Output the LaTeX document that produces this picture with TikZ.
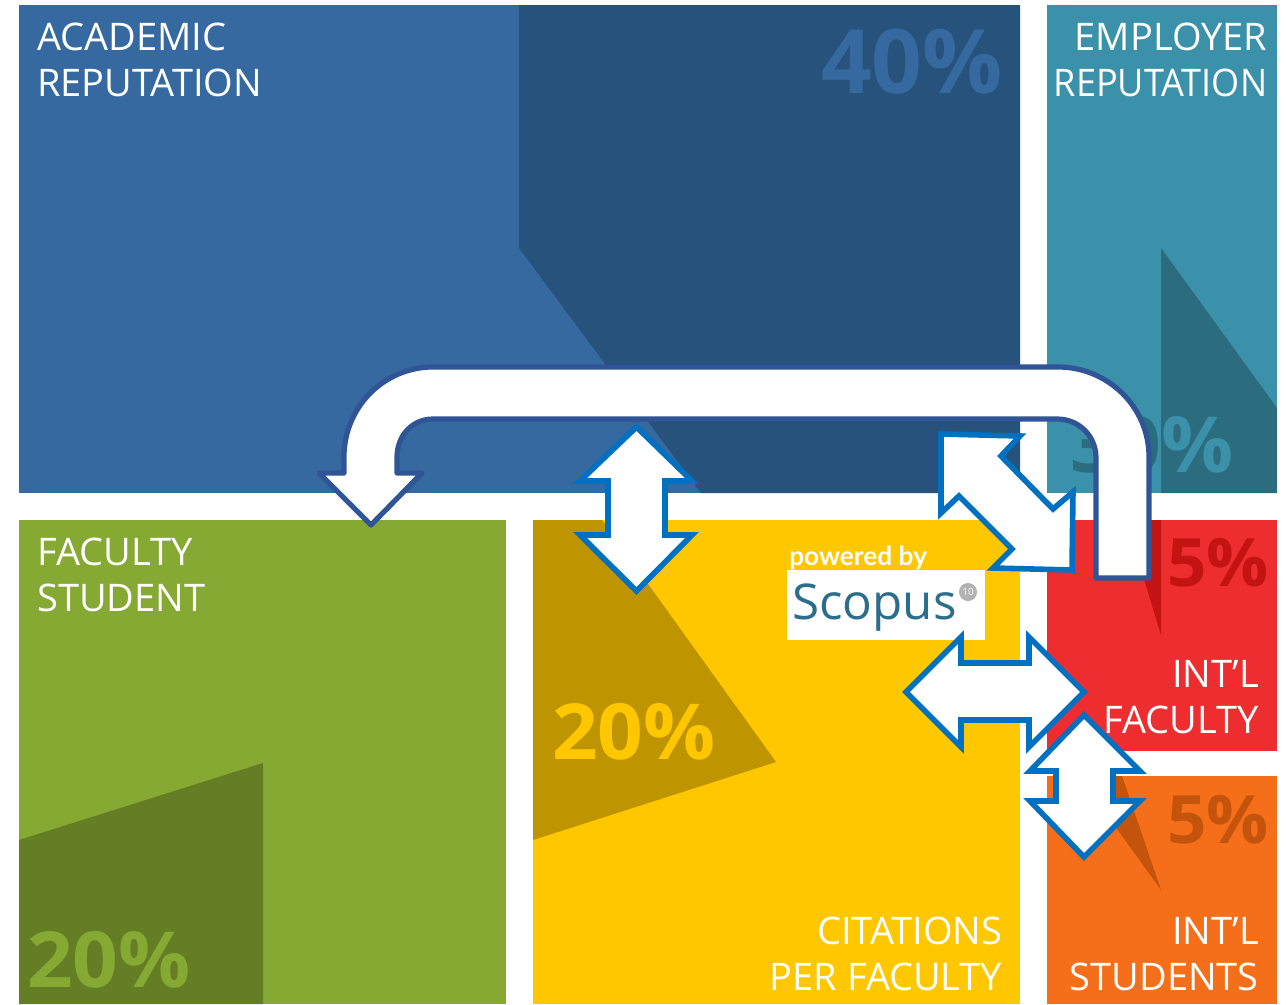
\documentclass[tikz,border=0pt]{standalone}
\usepackage{fontspec}
\setmainfont{Open Sans}
\newfontfamily\latofont{Lato}
\newcommand{\widen}[1]{\scalebox{1.035}[1]{#1}}
\definecolor{acad}{HTML}{35699F}\definecolor{acadd}{HTML}{27527B}
\definecolor{empl}{HTML}{3B91A9}\definecolor{empld}{HTML}{2C6C7F}
\definecolor{facs}{HTML}{85A933}\definecolor{facsd}{HTML}{647E26}
\definecolor{cite}{HTML}{FFC700}\definecolor{cited}{HTML}{BE9400}
\definecolor{intf}{HTML}{ED2D2F}\definecolor{intfd}{HTML}{C41313}
\definecolor{ints}{HTML}{F56E19}\definecolor{intsd}{HTML}{C4530B}
\definecolor{bigline}{HTML}{2F5597}\definecolor{blueline}{HTML}{0070C0}
\definecolor{scop}{HTML}{2A6E8C}
\tikzset{
 lab/.style={text=white,font=\fontsize{28.5pt}{34.5pt}\selectfont,inner sep=0pt,align=left},
 labr/.style={text=white,font=\fontsize{28.5pt}{34.5pt}\selectfont,inner sep=0pt,align=right},
 pctbig/.style={font=\fontsize{66.7pt}{66.7pt}\selectfont\bfseries,inner sep=0pt},
 pctmid/.style={font=\fontsize{58pt}{58pt}\selectfont\bfseries,inner sep=0pt},
 pctsmall/.style={font=\fontsize{50pt}{50pt}\selectfont\bfseries,inner sep=0pt},
 dblarrow/.style={draw=blueline,fill=white,line width=4.2pt,miter limit=10},
 bigarrow/.style={draw=bigline,fill=white,line width=3.9pt,line join=round}
}
\begin{document}
\begin{tikzpicture}[x=.75pt,y=-.75pt]
\useasboundingbox (0,0) rectangle (1286,1004);
\fill[white] (0,0) rectangle (1286,1004);
% panels
\fill[acad] (19,5) rectangle (1020,493);
\fill[acadd] (519,5) -- (1020,5) -- (1020,493) -- (701,493) -- (519,248) -- cycle;
\fill[empl] (1047,5) rectangle (1277,493);
\fill[empld] (1161,248) -- (1277,408) -- (1277,493) -- (1161,493) -- cycle;
\fill[facs] (19,520) rectangle (506,1004);
\fill[facsd] (19,840) -- (263,763) -- (263,1004) -- (19,1004) -- cycle;
\fill[cite] (533,520) rectangle (1020,1004);
\fill[cited] (533,520) -- (602,520) -- (776,762) -- (533,840) -- cycle;
\fill[intf] (1047,520) rectangle (1277,751);
\fill[intfd] (1126,520) -- (1161,520) -- (1161,635) -- cycle;
\fill[ints] (1047,776) rectangle (1277,1004);
\fill[intsd] (1079,776) -- (1122,776) -- (1161,890) -- cycle;
% labels
\node[lab,anchor=base west] (tacad) at (37,96) {ACADEMIC\\REPUTATION};
\node[labr,anchor=base east] (templ) at (1267.5,96) {EMPLOYER\\\scalebox{.95}[1]{REPUTATION}};
\node[lab,anchor=base west] (tfacs) at (37,611) {FACULTY\\STUDENT};
\node[labr,anchor=base east] (tcite) at (1002.5,990) {CITATIONS\\PER FACULTY};
\node[labr,anchor=base east] (tintf) at (1259,733) {INT’L\\FACULTY};
\node[labr,anchor=base east] (tints) at (1259,990) {INT’L\\STUDENTS};
% percents
\node[pctbig,text=acad,anchor=base east] (pacad) at (1003,93) {40\%};
\begin{scope}
\clip (1047,380) rectangle (1161,493);
\node[pctmid,text=empld,anchor=base east] (pempla) at (1234,472) {\widen{30\%}};
\end{scope}
\begin{scope}
\clip (1161,380) rectangle (1277,493);
\node[pctmid,text=empl,anchor=base east] (pemplb) at (1234,472) {\widen{30\%}};
\end{scope}
\node[pctmid,text=facs,anchor=base west] (pfacs) at (27,987) {\widen{20\%}};
\node[pctmid,text=cite,anchor=base west] (pcite) at (552,759) {\widen{20\%}};
\node[pctsmall,text=intfd,anchor=base east] (pintf) at (1269,586) {\widen{5\%}};
\node[pctsmall,text=intsd,anchor=base east] (pints) at (1269,843) {\widen{5\%}};
% scopus
\fill[white] (787,570) rectangle (985,640);
\node[text=white,font=\fontsize{19.7pt}{19.7pt}\latofont\bfseries,inner sep=0pt,anchor=base west] (powered) at (789,565) {powered by};
\node[text=scop,font=\fontsize{37pt}{37pt}\selectfont,inner sep=0pt,anchor=base west] (scopus) at (792,619) {Scopus};
\node[circle,fill=black!30,text=white,inner sep=0pt,minimum size=13.5pt,font=\fontsize{7.5pt}{7.5pt}\selectfont] (ten) at (968,592) {10};
% blue double arrows
\path[dblarrow] (636.5,427) -- (692,481) -- (665,481) -- (665,535) -- (692,535) -- (636.5,591) -- (580,535) -- (608,535) -- (608,481) -- (580,481) -- cycle;
\path[dblarrow] (941,434) -- (1020,436) -- (1001,456) -- (1053,509) -- (1073,492) -- (1072,570) -- (993,568) -- (1012,549) -- (959,496) -- (941,513) -- cycle;
% big bent arrow
\path[bigarrow] (1149,578) -- (1149,457) .. controls (1149,407) and (1108,367) .. (1058,367) -- (433,367) .. controls (384,367) and (344,407) .. (344,457) -- (344,473) -- (319,473) -- (371,525) -- (422,473) -- (397,473) -- (397,457) .. controls (397,436) and (412,419) .. (433,419) -- (1057,419) .. controls (1079,419) and (1096,436) .. (1096,458) -- (1096,578) -- cycle;
\path[dblarrow] (906,692) -- (961,637) -- (961,663) -- (1029,663) -- (1029,637) -- (1084,692) -- (1029,747) -- (1029,720) -- (961,720) -- (961,747) -- cycle;
\path[dblarrow] (1084,715) -- (1140,771) -- (1113,771) -- (1113,801) -- (1140,801) -- (1084,857) -- (1030,801) -- (1056,801) -- (1056,771) -- (1030,771) -- cycle;
\end{tikzpicture}
\end{document}
